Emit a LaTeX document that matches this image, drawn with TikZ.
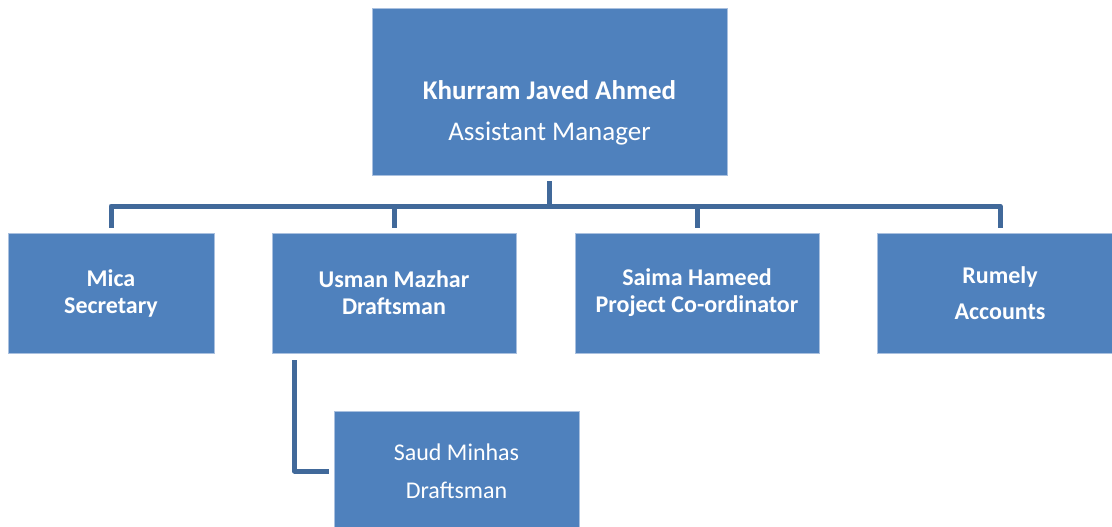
\documentclass[tikz,border=0pt]{standalone}
\usepackage{fontspec}
\setmainfont{Carlito}
\definecolor{boxblue}{HTML}{4F81BD}
\definecolor{boxedge}{HTML}{A9C0DF}
\definecolor{linkblue}{HTML}{41699A}
\begin{document}
\begin{tikzpicture}[x=1pt,y=-1pt,
  box/.style={draw=boxedge,line width=0.8pt,fill=boxblue,text=white,align=center,
    minimum height=120pt,inner sep=0pt},
  kid/.style={box,font=\fontsize{24}{27}\selectfont\bfseries},
  conn/.style={draw=linkblue,line width=5pt,line join=round}]
\useasboundingbox (0,0) rectangle (1112,527);
\clip (0,0) rectangle (1112,527);
\node[box,minimum width=355pt,minimum height=167pt] (top) at (549.5,91.5) {};
\node[text=white,align=center,font=\fontsize{27}{41}\selectfont] (toptext) at (549.5,113)
  {\textbf{Khurram Javed Ahmed}\\Assistant Manager};
\node[kid,minimum width=206pt] (mica) at (111,293) {Mica\\Secretary};
\node[kid,minimum width=244pt] (usman) at (394,293) {Usman Mazhar\\Draftsman};
\node[kid,minimum width=244pt] (saima) at (697,293) {Saima Hameed\\Project Co-ordinator};
\node[kid,minimum width=246pt,font=\fontsize{24}{36}\selectfont\bfseries] (rumely) at (1000,293) {Rumely\\Accounts};
\node[box,minimum width=245pt,font=\fontsize{24}{38}\selectfont] (saud) at (456.5,471) {Saud Minhas\\Draftsman};
\coordinate (bus) at (549.5,206);
\draw[conn,shorten <=6pt] (top.south) -- (top.south |- bus);
\draw[conn,shorten <=5pt,shorten >=5pt] (mica.north) -- (mica.north |- bus) -- (rumely.north |- bus) -- (rumely.north);
\draw[conn,shorten >=5pt] (usman.north |- bus) -- (usman.north);
\draw[conn,shorten >=5pt] (saima.north |- bus) -- (saima.north);
\draw[conn,shorten <=7pt,shorten >=5pt] ([xshift=23pt]usman.south west) |- (saud.west);
\end{tikzpicture}
\end{document}
